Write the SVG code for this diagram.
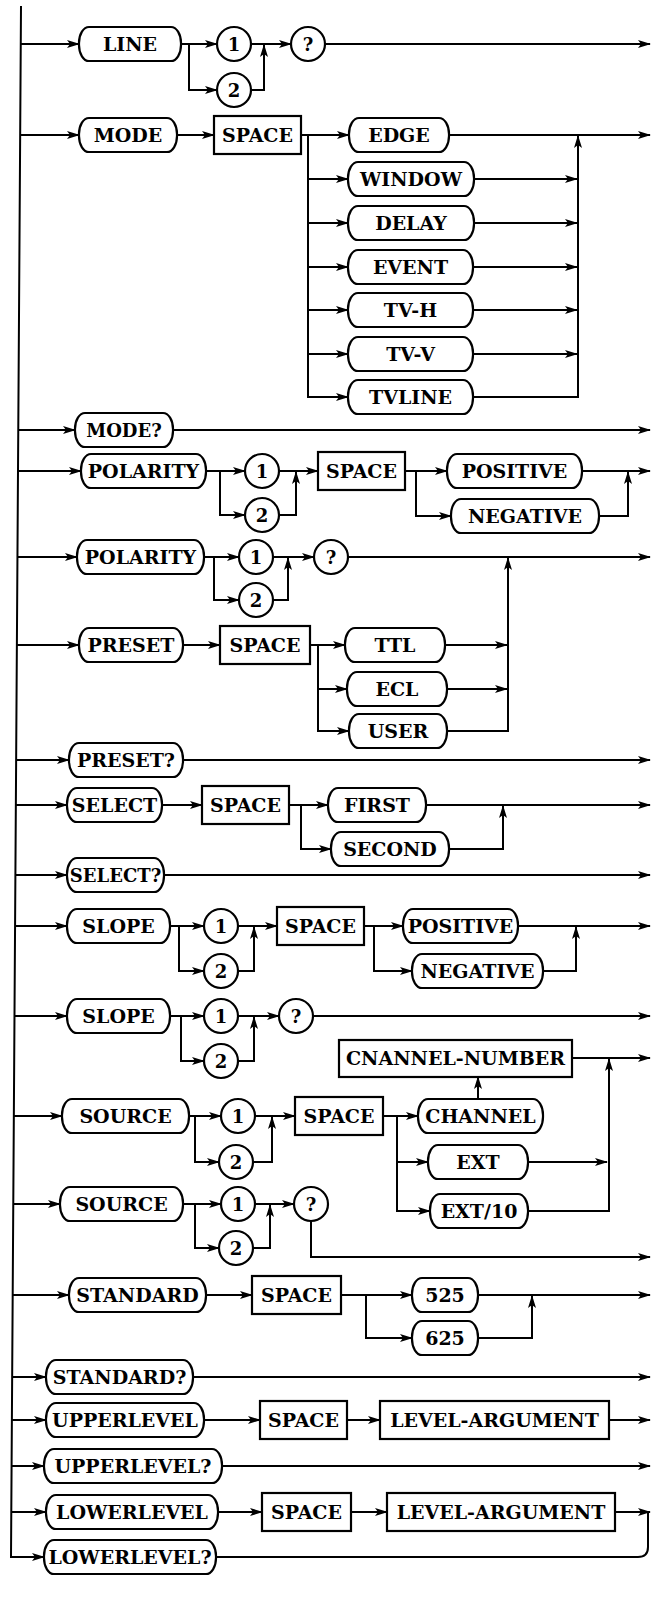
<svg xmlns="http://www.w3.org/2000/svg" width="652" height="1598" viewBox="0 0 652 1598">
<style>
.ln{fill:none;stroke:#000;stroke-width:2}
.ar{marker-end:url(#ah)}
.sh{fill:#fff;stroke:#000;stroke-width:2.2}
text{font-family:"DejaVu Serif","Liberation Serif",serif;font-weight:bold;font-size:19px;text-anchor:middle;fill:#000}
.d{font-size:18px}
.t{font-size:18px}
</style>
<defs>
<marker id="ah" markerWidth="13" markerHeight="8" refX="12" refY="4" orient="auto" markerUnits="userSpaceOnUse"><path d="M0,0 L13,4 L0,8 L3,4 Z" fill="#000"/></marker>
</defs>
<rect width="652" height="1598" fill="#fff"/>
<g id="connectors">
<path class="ln ar" d="M21,6 L11,1557 H44"/>
<path class="ln ar" d="M20.8,44 H79"/>
<path class="ln ar" d="M181,44 H217"/>
<path class="ln ar" d="M189,44 V90 H217"/>
<path class="ln ar" d="M251,44 H291"/>
<path class="ln ar" d="M251,90 H264 V45"/>
<path class="ln ar" d="M325,44 H650"/>
<path class="ln ar" d="M20.2,135 H79"/>
<path class="ln ar" d="M177,135 H214"/>
<path class="ln ar" d="M301,135 H349"/>
<path class="ln ar" d="M308,135 V397 H348"/>
<path class="ln ar" d="M308,179 H348"/>
<path class="ln ar" d="M308,223 H348"/>
<path class="ln ar" d="M308,267 H348"/>
<path class="ln ar" d="M308,310 H348"/>
<path class="ln ar" d="M308,354 H348"/>
<path class="ln ar" d="M449,135 H650"/>
<path class="ln ar" d="M474,179 H577"/>
<path class="ln ar" d="M474,223 H577"/>
<path class="ln ar" d="M473,267 H577"/>
<path class="ln ar" d="M473,310 H577"/>
<path class="ln ar" d="M473,354 H577"/>
<path class="ln ar" d="M473,397 H578 V136"/>
<path class="ln ar" d="M18.3,430 H75"/>
<path class="ln ar" d="M173,430 H650"/>
<path class="ln ar" d="M18,471 H81"/>
<path class="ln ar" d="M206,471 H245"/>
<path class="ln ar" d="M220,471 V515 H245"/>
<path class="ln ar" d="M279,471 H318"/>
<path class="ln ar" d="M279,515 H296 V472"/>
<path class="ln ar" d="M405,471 H447"/>
<path class="ln ar" d="M416,471 V516 H451"/>
<path class="ln ar" d="M582,471 H650"/>
<path class="ln ar" d="M599,516 H628 V472"/>
<path class="ln ar" d="M17.5,557 H77"/>
<path class="ln ar" d="M204,557 H239"/>
<path class="ln ar" d="M214,557 V600 H239"/>
<path class="ln ar" d="M273,557 H314"/>
<path class="ln ar" d="M273,600 H288 V558"/>
<path class="ln ar" d="M348,557 H650"/>
<path class="ln ar" d="M16.9,645 H79"/>
<path class="ln ar" d="M183,645 H220"/>
<path class="ln ar" d="M310,645 H345"/>
<path class="ln ar" d="M318,645 V731 H349"/>
<path class="ln ar" d="M318,689 H347"/>
<path class="ln ar" d="M445,645 H507"/>
<path class="ln ar" d="M447,689 H507"/>
<path class="ln ar" d="M447,731 H508 V558"/>
<path class="ln ar" d="M16.1,760 H69"/>
<path class="ln ar" d="M183,760 H650"/>
<path class="ln ar" d="M15.9,805 H67"/>
<path class="ln ar" d="M162,805 H202"/>
<path class="ln ar" d="M289,805 H328"/>
<path class="ln ar" d="M301,805 V849 H331"/>
<path class="ln ar" d="M426,805 H650"/>
<path class="ln ar" d="M449,849 H503 V806"/>
<path class="ln ar" d="M15.4,875 H67"/>
<path class="ln ar" d="M164,875 H650"/>
<path class="ln ar" d="M15.1,926 H67"/>
<path class="ln ar" d="M170,926 H204"/>
<path class="ln ar" d="M179,926 V971 H204"/>
<path class="ln ar" d="M238,926 H277"/>
<path class="ln ar" d="M238,971 H254 V927"/>
<path class="ln ar" d="M364,926 H403"/>
<path class="ln ar" d="M374,926 V971 H412"/>
<path class="ln ar" d="M518,926 H650"/>
<path class="ln ar" d="M543,971 H576 V927"/>
<path class="ln ar" d="M14.5,1016 H67"/>
<path class="ln ar" d="M170,1016 H204"/>
<path class="ln ar" d="M181,1016 V1061 H204"/>
<path class="ln ar" d="M238,1016 H279"/>
<path class="ln ar" d="M238,1061 H254 V1017"/>
<path class="ln ar" d="M313,1016 H650"/>
<path class="ln ar" d="M572,1058 H650"/>
<path class="ln ar" d="M528,1211 H609 V1059"/>
<path class="ln ar" d="M13.8,1116 H62"/>
<path class="ln ar" d="M189,1116 H221"/>
<path class="ln ar" d="M195,1116 V1162 H219"/>
<path class="ln ar" d="M255,1116 H295"/>
<path class="ln ar" d="M253,1162 H272 V1117"/>
<path class="ln ar" d="M383,1116 H418"/>
<path class="ln ar" d="M478,1099 V1077"/>
<path class="ln ar" d="M397,1116 V1211 H430"/>
<path class="ln ar" d="M397,1162 H428"/>
<path class="ln ar" d="M528,1162 H607"/>
<path class="ln ar" d="M13.3,1204 H60"/>
<path class="ln ar" d="M183,1204 H221"/>
<path class="ln ar" d="M195,1204 V1248 H219"/>
<path class="ln ar" d="M255,1204 H294"/>
<path class="ln ar" d="M253,1248 H270 V1205"/>
<path class="ln ar" d="M311,1221 V1257 H650"/>
<path class="ln ar" d="M12.7,1295 H69"/>
<path class="ln ar" d="M206,1295 H252"/>
<path class="ln ar" d="M341,1295 H412"/>
<path class="ln ar" d="M366,1295 V1338 H412"/>
<path class="ln ar" d="M478,1295 H650"/>
<path class="ln ar" d="M478,1338 H532 V1296"/>
<path class="ln ar" d="M12.2,1377 H46"/>
<path class="ln ar" d="M193,1377 H650"/>
<path class="ln ar" d="M11.9,1420 H46"/>
<path class="ln ar" d="M204,1420 H260"/>
<path class="ln ar" d="M347,1420 H380"/>
<path class="ln ar" d="M609,1420 H650"/>
<path class="ln ar" d="M11.6,1466 H44"/>
<path class="ln ar" d="M222,1466 H650"/>
<path class="ln ar" d="M11.3,1512 H46"/>
<path class="ln ar" d="M218,1512 H262"/>
<path class="ln ar" d="M351,1512 H387"/>
<path class="ln ar" d="M615,1512 H650"/>
<path class="ln" d="M216,1557 H638 Q648,1557 648,1547 V1512"/>
</g>

<g id="n-line"><rect class="sh" x="79" y="27" width="102" height="34" rx="10" ry="16"/><text x="130" y="51">LINE</text></g>
<g id="n-line-1"><circle class="sh" cx="234" cy="44" r="17"/><text class="d" x="234" y="50.5">1</text></g>
<g id="n-line-2"><circle class="sh" cx="234" cy="90" r="17"/><text class="d" x="234" y="96.5">2</text></g>
<g id="n-line-q"><circle class="sh" cx="308" cy="44" r="17"/><text class="d" x="308" y="50.5">?</text></g>

<g id="n-mode"><rect class="sh" x="79" y="118" width="98" height="34" rx="10" ry="16"/><text x="128" y="142">MODE</text></g>
<g id="n-mode-space"><rect class="sh" x="214" y="116" width="87" height="38"/><text x="257.5" y="142">SPACE</text></g>
<g id="n-edge"><rect class="sh" x="349" y="118" width="100" height="34" rx="10" ry="16"/><text x="399" y="142">EDGE</text></g>
<g id="n-window"><rect class="sh" x="348" y="162" width="126" height="34" rx="10" ry="16"/><text x="411" y="186">WINDOW</text></g>
<g id="n-delay"><rect class="sh" x="348" y="206" width="126" height="34" rx="10" ry="16"/><text x="411" y="230">DELAY</text></g>
<g id="n-event"><rect class="sh" x="348" y="250" width="125" height="34" rx="10" ry="16"/><text x="410.5" y="274">EVENT</text></g>
<g id="n-tvh"><rect class="sh" x="348" y="293" width="125" height="34" rx="10" ry="16"/><text x="410.5" y="317">TV-H</text></g>
<g id="n-tvv"><rect class="sh" x="348" y="337" width="125" height="34" rx="10" ry="16"/><text x="410.5" y="361">TV-V</text></g>
<g id="n-tvline"><rect class="sh" x="348" y="380" width="125" height="34" rx="10" ry="16"/><text x="410.5" y="404">TVLINE</text></g>

<g id="n-modeq"><rect class="sh" x="75" y="413" width="98" height="34" rx="10" ry="16"/><text class="t" x="124" y="436.5">MODE?</text></g>

<g id="n-polarity"><rect class="sh" x="81" y="454" width="125" height="34" rx="10" ry="16"/><text x="143.5" y="478">POLARITY</text></g>
<g id="n-pol-1"><circle class="sh" cx="262" cy="471" r="17"/><text class="d" x="262" y="477.5">1</text></g>
<g id="n-pol-2"><circle class="sh" cx="262" cy="515" r="17"/><text class="d" x="262" y="521.5">2</text></g>
<g id="n-pol-space"><rect class="sh" x="318" y="452" width="87" height="38"/><text x="361.5" y="478">SPACE</text></g>
<g id="n-positive"><rect class="sh" x="447" y="454" width="135" height="34" rx="10" ry="16"/><text x="514.5" y="478">POSITIVE</text></g>
<g id="n-negative"><rect class="sh" x="451" y="499" width="148" height="34" rx="10" ry="16"/><text x="525" y="523">NEGATIVE</text></g>

<g id="n-polarity2"><rect class="sh" x="77" y="540" width="127" height="34" rx="10" ry="16"/><text x="140.5" y="564">POLARITY</text></g>
<g id="n-pol2-1"><circle class="sh" cx="256" cy="557" r="17"/><text class="d" x="256" y="563.5">1</text></g>
<g id="n-pol2-2"><circle class="sh" cx="256" cy="600" r="17"/><text class="d" x="256" y="606.5">2</text></g>
<g id="n-pol2-q"><circle class="sh" cx="331" cy="557" r="17"/><text class="d" x="331" y="563.5">?</text></g>

<g id="n-preset"><rect class="sh" x="79" y="628" width="104" height="34" rx="10" ry="16"/><text x="131" y="652">PRESET</text></g>
<g id="n-preset-space"><rect class="sh" x="220" y="626" width="90" height="38"/><text x="265" y="652">SPACE</text></g>
<g id="n-ttl"><rect class="sh" x="345" y="628" width="100" height="34" rx="10" ry="16"/><text x="395" y="652">TTL</text></g>
<g id="n-ecl"><rect class="sh" x="347" y="672" width="100" height="34" rx="10" ry="16"/><text x="397" y="696">ECL</text></g>
<g id="n-user"><rect class="sh" x="349" y="714" width="98" height="34" rx="10" ry="16"/><text x="398" y="738">USER</text></g>

<g id="n-presetq"><rect class="sh" x="69" y="743" width="114" height="34" rx="10" ry="16"/><text x="126" y="767">PRESET?</text></g>

<g id="n-select"><rect class="sh" x="67" y="788" width="95" height="34" rx="10" ry="16"/><text x="114.5" y="812">SELECT</text></g>
<g id="n-select-space"><rect class="sh" x="202" y="786" width="87" height="38"/><text x="245.5" y="812">SPACE</text></g>
<g id="n-first"><rect class="sh" x="328" y="788" width="98" height="34" rx="10" ry="16"/><text x="377" y="812">FIRST</text></g>
<g id="n-second"><rect class="sh" x="331" y="832" width="118" height="34" rx="10" ry="16"/><text x="390" y="856">SECOND</text></g>

<g id="n-selectq"><rect class="sh" x="67" y="858" width="97" height="34" rx="10" ry="16"/><text class="t" x="115.5" y="881.5">SELECT?</text></g>

<g id="n-slope"><rect class="sh" x="67" y="909" width="103" height="34" rx="10" ry="16"/><text x="118.5" y="933">SLOPE</text></g>
<g id="n-slope-1"><circle class="sh" cx="221" cy="926" r="17"/><text class="d" x="221" y="932.5">1</text></g>
<g id="n-slope-2"><circle class="sh" cx="221" cy="971" r="17"/><text class="d" x="221" y="977.5">2</text></g>
<g id="n-slope-space"><rect class="sh" x="277" y="907" width="87" height="38"/><text x="320.5" y="933">SPACE</text></g>
<g id="n-slope-positive"><rect class="sh" x="403" y="909" width="115" height="34" rx="10" ry="16"/><text x="460.5" y="933">POSITIVE</text></g>
<g id="n-slope-negative"><rect class="sh" x="412" y="954" width="131" height="34" rx="10" ry="16"/><text x="477.5" y="978">NEGATIVE</text></g>

<g id="n-slope2"><rect class="sh" x="67" y="999" width="103" height="34" rx="10" ry="16"/><text x="118.5" y="1023">SLOPE</text></g>
<g id="n-slope2-1"><circle class="sh" cx="221" cy="1016" r="17"/><text class="d" x="221" y="1022.5">1</text></g>
<g id="n-slope2-2"><circle class="sh" cx="221" cy="1061" r="17"/><text class="d" x="221" y="1067.5">2</text></g>
<g id="n-slope2-q"><circle class="sh" cx="296" cy="1016" r="17"/><text class="d" x="296" y="1022.5">?</text></g>

<g id="n-cnannel-number"><rect class="sh" x="339" y="1040" width="233" height="37"/><text x="455.5" y="1065">CNANNEL-NUMBER</text></g>

<g id="n-source"><rect class="sh" x="62" y="1099" width="127" height="34" rx="10" ry="16"/><text x="125.5" y="1123">SOURCE</text></g>
<g id="n-source-1"><circle class="sh" cx="238" cy="1116" r="17"/><text class="d" x="238" y="1122.5">1</text></g>
<g id="n-source-2"><circle class="sh" cx="236" cy="1162" r="17"/><text class="d" x="236" y="1168.5">2</text></g>
<g id="n-source-space"><rect class="sh" x="295" y="1097" width="88" height="38"/><text x="339" y="1123">SPACE</text></g>
<g id="n-channel"><rect class="sh" x="418" y="1099" width="125" height="34" rx="10" ry="16"/><text x="480.5" y="1123">CHANNEL</text></g>
<g id="n-ext"><rect class="sh" x="428" y="1145" width="100" height="34" rx="10" ry="16"/><text x="478" y="1169">EXT</text></g>
<g id="n-ext10"><rect class="sh" x="430" y="1194" width="98" height="34" rx="10" ry="16"/><text x="479" y="1218">EXT/10</text></g>

<g id="n-source2"><rect class="sh" x="60" y="1187" width="123" height="34" rx="10" ry="16"/><text x="121.5" y="1211">SOURCE</text></g>
<g id="n-source2-1"><circle class="sh" cx="238" cy="1204" r="17"/><text class="d" x="238" y="1210.5">1</text></g>
<g id="n-source2-2"><circle class="sh" cx="236" cy="1248" r="17"/><text class="d" x="236" y="1254.5">2</text></g>
<g id="n-source2-q"><circle class="sh" cx="311" cy="1204" r="17"/><text class="d" x="311" y="1210.5">?</text></g>

<g id="n-standard"><rect class="sh" x="69" y="1278" width="137" height="34" rx="10" ry="16"/><text x="137.5" y="1302">STANDARD</text></g>
<g id="n-standard-space"><rect class="sh" x="252" y="1276" width="89" height="38"/><text x="296.5" y="1302">SPACE</text></g>
<g id="n-525"><rect class="sh" x="412" y="1278" width="66" height="34" rx="10" ry="16"/><text x="445" y="1302">525</text></g>
<g id="n-625"><rect class="sh" x="412" y="1321" width="66" height="34" rx="10" ry="16"/><text x="445" y="1345">625</text></g>

<g id="n-standardq"><rect class="sh" x="46" y="1360" width="147" height="34" rx="10" ry="16"/><text x="119.5" y="1384">STANDARD?</text></g>

<g id="n-upperlevel"><rect class="sh" x="46" y="1403" width="158" height="34" rx="10" ry="16"/><text x="125" y="1427">UPPERLEVEL</text></g>
<g id="n-upper-space"><rect class="sh" x="260" y="1401" width="87" height="38"/><text x="303.5" y="1427">SPACE</text></g>
<g id="n-upper-arg"><rect class="sh" x="380" y="1401" width="229" height="38"/><text x="494.5" y="1427">LEVEL-ARGUMENT</text></g>

<g id="n-upperlevelq"><rect class="sh" x="44" y="1449" width="178" height="34" rx="10" ry="16"/><text x="133" y="1473">UPPERLEVEL?</text></g>

<g id="n-lowerlevel"><rect class="sh" x="46" y="1495" width="172" height="34" rx="10" ry="16"/><text x="132" y="1519">LOWERLEVEL</text></g>
<g id="n-lower-space"><rect class="sh" x="262" y="1493" width="89" height="38"/><text x="306.5" y="1519">SPACE</text></g>
<g id="n-lower-arg"><rect class="sh" x="387" y="1493" width="228" height="38"/><text x="501" y="1519">LEVEL-ARGUMENT</text></g>

<g id="n-lowerlevelq"><rect class="sh" x="44" y="1540" width="172" height="34" rx="10" ry="16"/><text x="130" y="1564">LOWERLEVEL?</text></g>
</svg>
